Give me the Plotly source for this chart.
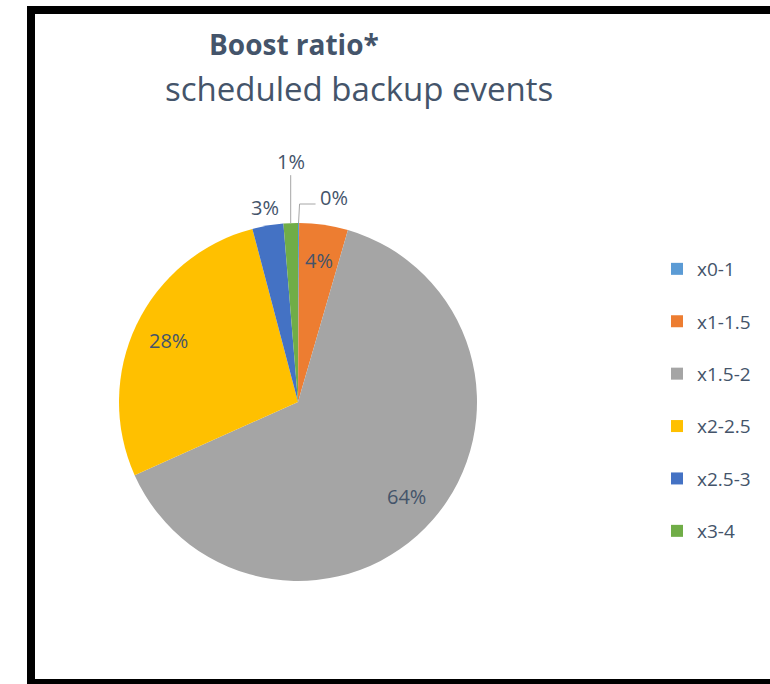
import math
import plotly.graph_objects as go

categories = ["x0-1", "x1-1.5", "x1.5-2", "x2-2.5", "x2.5-3", "x3-4"]
values = [0.1, 4.4, 63.8, 27.6, 2.8, 1.3]
colors = ["#5B9BD5", "#ED7D31", "#A5A5A5", "#FFC000", "#4472C4", "#70AD47"]
label_pos = ["leader", "inside", "inside", "inside", "outside", "leader_up"]
title_text = "Boost ratio*"
subtitle_text = "scheduled backup events"

W, H = 770, 684
OFF = 0
TXT = "#44546A"
FONT = "Open Sans"

# pie geometry (window pixels)
cx, cy, R = 298, 402, 179


def px(x):
    return (x - OFF) / W


def py(y):
    return 1 - (y - OFF) / H


fig = go.Figure()
fig.add_trace(go.Pie(
    labels=[c + "<br> " for c in categories],
    values=values,
    customdata=categories,
    marker=dict(colors=colors, line=dict(width=0)),
    sort=False,
    direction="clockwise",
    rotation=0,
    textinfo="none",
    hovertemplate="%{customdata}: %{percent}<extra></extra>",
    domain=dict(x=[px(cx - R), px(cx + R)], y=[py(cy + R), py(cy - R)]),
))

total = sum(values)
annotations = []
shapes = []
cum = 0.0
LBL = dict(family=FONT, size=20, color=TXT)
for cat, v, pos in zip(categories, values, label_pos):
    mid = (cum + v / 2) / total
    cum += v
    a = 2 * math.pi * mid
    pct = f"{round(100 * v / total)}%"

    def pt(rf):
        return cx + rf * R * math.sin(a), cy - rf * R * math.cos(a)

    if pos == "inside":
        x, y = pt(0.8)
        annotations.append(dict(x=px(x), y=py(y), xref="paper", yref="paper", text=pct,
                                xanchor="center", yanchor="middle", showarrow=False, font=LBL))
    elif pos == "outside":
        x, y = pt(1.1)
        annotations.append(dict(x=px(x), y=py(y), xref="paper", yref="paper", text=pct,
                                xanchor="center", yanchor="middle", showarrow=False, font=LBL))
    elif pos == "leader_up":
        ex, ey = pt(1.0)
        shapes.append(dict(type="line", xref="paper", yref="paper",
                           x0=px(ex), y0=py(ey), x1=px(ex), y1=py(ey - 48),
                           line=dict(color="#A6A6A6", width=1)))
        annotations.append(dict(x=px(ex), y=py(ey - 62), xref="paper", yref="paper", text=pct,
                                xanchor="center", yanchor="middle", showarrow=False, font=LBL))
    elif pos == "leader":
        ex, ey = pt(1.0)
        shapes.append(dict(type="path", xref="paper", yref="paper",
                           path=f"M{px(ex)},{py(ey)} L{px(ex + 1)},{py(ey - 19)} L{px(ex + 17)},{py(ey - 19)}",
                           line=dict(color="#A6A6A6", width=1)))
        annotations.append(dict(x=px(ex + 19), y=py(ey - 26), xref="paper", yref="paper", text=pct,
                                xanchor="left", yanchor="middle", showarrow=False, font=LBL))

# titles
annotations.append(dict(x=px(207), y=py(44), xref="paper", yref="paper", text=f"<b>{title_text}</b>",
                        xanchor="left", yanchor="middle", showarrow=False,
                        font=dict(family=FONT, size=28, color=TXT)))
annotations.append(dict(x=px(163), y=py(88), xref="paper", yref="paper", text=subtitle_text,
                        xanchor="left", yanchor="middle", showarrow=False,
                        font=dict(family=FONT, size=33, color=TXT)))

# black frame
frame = [
    (27, 6, 35, 700),
    (27, 6, 790, 14),
    (27, 679, 790, 700),
]
for x0, y0, x1, y1 in frame:
    shapes.append(dict(type="rect", xref="paper", yref="paper",
                       x0=px(x0), x1=px(x1), y0=py(y1), y1=py(y0),
                       fillcolor="black", line=dict(width=0), layer="above"))

fig.update_layout(
    width=W, height=H,
    margin=dict(l=0, r=0, t=0, b=0),
    paper_bgcolor="white", plot_bgcolor="white",
    showlegend=True,
    legend=dict(x=px(657), y=py(250), xanchor="left", yanchor="top",
                valign="top", font=dict(family=FONT, size=19, color=TXT),
                bgcolor="rgba(0,0,0,0)"),
    annotations=annotations,
    shapes=shapes,
)

fig.write_html(
    "out.html",
    config={"displayModeBar": False},
    post_script="document.body.style.margin='0';document.body.style.overflow='hidden';",
)
